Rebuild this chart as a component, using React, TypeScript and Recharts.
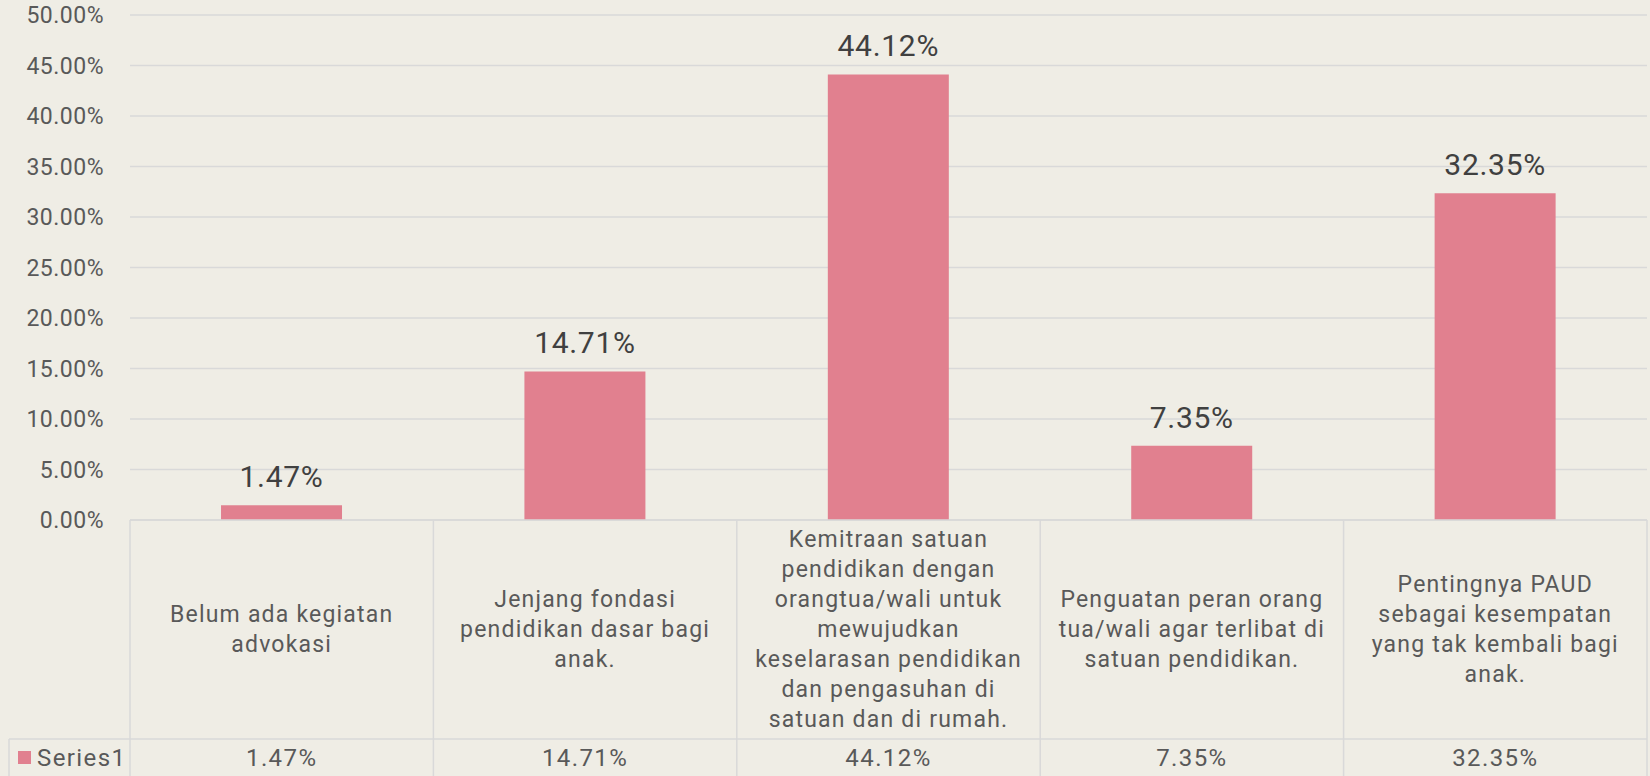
import React from 'react';
import { BarChart, Bar, XAxis, YAxis, CartesianGrid, LabelList } from 'recharts';

const categories = [
  'Belum ada kegiatan advokasi',
  'Jenjang fondasi pendidikan dasar bagi anak.',
  'Kemitraan satuan pendidikan dengan orangtua/wali untuk mewujudkan keselarasan pendidikan dan pengasuhan di satuan dan di rumah.',
  'Penguatan peran orang tua/wali agar terlibat di satuan pendidikan.',
  'Pentingnya PAUD sebagai kesempatan yang tak kembali bagi anak.',
];

// line breaks as they appear in the data table cells
const categoryLines = [
  ['Belum ada kegiatan', 'advokasi'],
  ['Jenjang fondasi', 'pendidikan dasar bagi', 'anak.'],
  [
    'Kemitraan satuan',
    'pendidikan dengan',
    'orangtua/wali untuk',
    'mewujudkan',
    'keselarasan pendidikan',
    'dan pengasuhan di',
    'satuan dan di rumah.',
  ],
  ['Penguatan peran orang', 'tua/wali agar terlibat di', 'satuan pendidikan.'],
  ['Pentingnya PAUD', 'sebagai kesempatan', 'yang tak kembali bagi', 'anak.'],
];

const values = [1.47, 14.71, 44.12, 7.35, 32.35];
const yTicks = [0, 5, 10, 15, 20, 25, 30, 35, 40, 45, 50];
const seriesName = 'Series1';

const data = categories.map((name, i) => ({ name, value: values[i] }));

const BG = '#EFEDE5';
const GRID = '#D9D9D9';
const BAR = '#E1808F';
const TEXT = '#595959';
const FONT = 'Roboto, "Liberation Sans", sans-serif';

const ROW1 = 219; // category row height
const ROW2 = 60; // value row height (cut off by the picture)
const LINE_H = 30;

const fmt = (v: number) => `${v.toFixed(2)}%`;

const TableTick = (props: any) => {
  const { x, y, payload, index } = props;
  const band = (props.width || 1517) / categories.length;
  const left = x - band / 2;
  const right = x + band / 2;
  const lines = categoryLines[index] || [payload.value];
  const mid = y + ROW1 / 2;
  const first = mid - ((lines.length - 1) * LINE_H) / 2;

  return (
    <g>
      <line x1={left} x2={left} y1={y} y2={y + ROW1 + ROW2} stroke={GRID} strokeWidth={1.5} />
      {index === categories.length - 1 && (
        <line x1={right} x2={right} y1={y} y2={y + ROW1 + ROW2} stroke={GRID} strokeWidth={1.5} />
      )}
      <line x1={left} x2={right} y1={y + ROW1} y2={y + ROW1} stroke={GRID} strokeWidth={1.5} />
      {lines.map((ln: string, i: number) => (
        <text
          key={i}
          x={x}
          y={first + i * LINE_H}
          textAnchor="middle"
          dominantBaseline="central"
          fill={TEXT}
          fontSize={23}
          letterSpacing={1.2}
          fontFamily={FONT}
        >
          {ln}
        </text>
      ))}
      <text
        x={x}
        y={y + ROW1 + 19}
        textAnchor="middle"
        dominantBaseline="central"
        fill={TEXT}
        fontSize={24}
        letterSpacing={1.4}
        fontFamily={FONT}
      >
        {fmt(values[index])}
      </text>
      {index === 0 && (
        <g>
          <line x1={9} x2={left} y1={y + ROW1} y2={y + ROW1} stroke={GRID} strokeWidth={1.5} />
          <line x1={9} x2={9} y1={y + ROW1} y2={y + ROW1 + ROW2} stroke={GRID} strokeWidth={1.5} />
          <rect x={18} y={y + ROW1 + 12} width={13} height={13} fill={BAR} />
          <text
            x={37}
            y={y + ROW1 + 19}
            dominantBaseline="central"
            fill={TEXT}
            fontSize={24}
            letterSpacing={1.4}
            fontFamily={FONT}
          >
            {seriesName}
          </text>
        </g>
      )}
    </g>
  );
};

export default function App() {
  return (
    <div style={{ position: 'fixed', left: 0, top: 0, width: 1650, height: 776, background: BG, overflow: 'hidden' }}>
      <BarChart
        width={1650}
        height={776}
        data={data}
        margin={{ top: 15, right: 3, left: 0, bottom: 0 }}
        barCategoryGap="30%"
      >
        <CartesianGrid vertical={false} stroke={GRID} strokeWidth={1.5} />
        <XAxis
          dataKey="name"
          height={256}
          interval={0}
          tickLine={false}
          tickSize={0}
          tickMargin={0}
          axisLine={{ stroke: GRID, strokeWidth: 1.5 }}
          tick={<TableTick />}
        />
        <YAxis
          width={130}
          domain={[0, 50]}
          ticks={yTicks}
          interval={0}
          tickFormatter={fmt}
          axisLine={false}
          tickLine={false}
          tickMargin={20}
          tick={{ fill: TEXT, fontSize: 23, fontFamily: FONT, letterSpacing: 0.5 }}
        />
        <Bar dataKey="value" fill={BAR} isAnimationActive={false}>
          <LabelList
            dataKey="value"
            position="top"
            offset={18}
            formatter={(v: any) => fmt(Number(v))}
            fill="#404040"
            fontSize={30}
            letterSpacing={0.7}
            fontFamily={FONT}
          />
        </Bar>
      </BarChart>
    </div>
  );
}
